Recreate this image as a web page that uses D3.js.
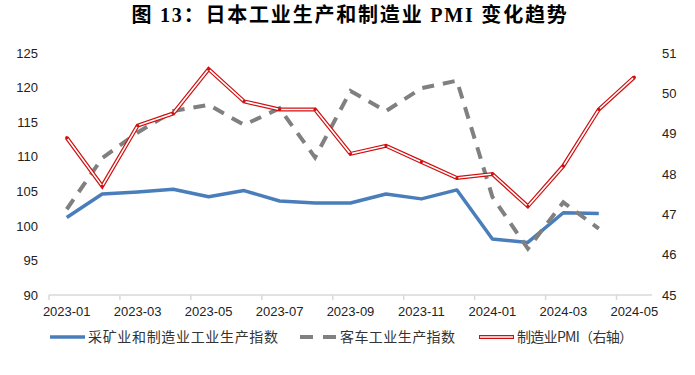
<!DOCTYPE html>
<html>
<head>
<meta charset="utf-8">
<script src="https://cdn.jsdelivr.net/npm/d3@7"></script>
<style>
  body { margin: 0; background: #fff; }
  svg { display: block; }
</style>
</head>
<body>
<script>
// 数据
var months = ["2023-01","2023-02","2023-03","2023-04","2023-05","2023-06","2023-07","2023-08","2023-09",
              "2023-10","2023-11","2023-12","2024-01","2024-02","2024-03","2024-04","2024-05"];
var ipIndex   = [101.2,104.6,104.9,105.3,104.2,105.1,103.6,103.3,103.3,104.6,103.9,105.2,98.1,97.6,101.9,101.8,null];
var autoIndex = [102.4,109.8,113.5,116.6,117.5,114.6,117.0,109.9,119.5,116.6,119.9,121.0,104.2,96.7,103.4,99.6,null];
var pmi       = [48.9,47.7,49.2,49.5,50.6,49.8,49.6,49.6,48.5,48.7,48.3,47.9,48.0,47.2,48.2,49.6,50.4];
var leftTicks  = [90,95,100,105,110,115,120,125];
var rightTicks = [45,46,47,48,49,50,51];
var title = "图 13：日本工业生产和制造业 PMI 变化趋势";
var legendNames = ["采矿业和制造业工业生产指数", "客车工业生产指数", "制造业PMI（右轴）"];

var width = 695, height = 375;
var plotL = 49, plotR = 652, plotT = 53, plotB = 295;
var blue = "#4a7ebb", grey = "#808080", red = "#d01010";

var svg = d3.select("body").append("svg")
    .attr("width", width).attr("height", height);

var x = d3.scaleBand().domain(months).range([plotL, plotR]);
var cx = function(m) { return x(m) + x.bandwidth() / 2; };
var yL = d3.scaleLinear().domain([90, 125]).range([plotB, plotT]);
var yR = d3.scaleLinear().domain([45, 51]).range([plotB, plotT]);

// 标题
svg.append("text")
    .attr("x", 350).attr("y", 22)
    .attr("text-anchor", "middle")
    .attr("font-family", "'Liberation Serif', 'Noto Sans CJK SC'")
    .attr("font-weight", "bold")
    .attr("font-size", 20)
    .attr("letter-spacing", 1.8)
    .text(title);

// 左轴
var axL = svg.append("g").attr("transform", "translate(" + plotL + ",0)")
    .call(d3.axisLeft(yL).tickValues(leftTicks).tickSize(0).tickPadding(11));
axL.select(".domain").remove();
// 右轴
var axR = svg.append("g").attr("transform", "translate(" + plotR + ",0)")
    .call(d3.axisRight(yR).tickValues(rightTicks).tickFormat(d3.format("d")).tickSize(0).tickPadding(10));
axR.select(".domain").remove();

// x轴
var axX = svg.append("g").attr("transform", "translate(0," + plotB + ")")
    .call(d3.axisBottom(x).tickSize(0).tickPadding(12)
        .tickFormat(function(d, i) { return i % 2 === 0 ? d : ""; }));
axX.select(".domain").attr("stroke", "#d9d9d9").attr("stroke-width", 1.5)
    .attr("d", "M" + plotL + ",0H" + plotR);
axX.selectAll(".tickmark").data(months.filter(function(d, i) { return i % 2 === 0; }))
  .enter().append("line")
    .attr("x1", function(d) { return x(d); }).attr("x2", function(d) { return x(d); })
    .attr("y1", 0).attr("y2", 5)
    .attr("stroke", "#d9d9d9").attr("stroke-width", 1.5);

svg.selectAll(".tick text")
    .attr("font-family", "'Liberation Sans', Arial, sans-serif")
    .attr("font-size", 13)
    .attr("fill", "#222");

// 折线
function series(vals) {
    return months.map(function(m, i) { return {m: m, v: vals[i]}; })
        .filter(function(d) { return d.v != null; });
}
var line = function(scale) {
    return d3.line().x(function(d) { return cx(d.m); }).y(function(d) { return scale(d.v); });
};

svg.append("path").datum(series(ipIndex))
    .attr("d", line(yL)).attr("fill", "none")
    .attr("stroke", blue).attr("stroke-width", 3.5).attr("stroke-linejoin", "round");

svg.append("path").datum(series(autoIndex))
    .attr("d", line(yL)).attr("fill", "none")
    .attr("stroke", grey).attr("stroke-width", 4).attr("stroke-dasharray", "12,9");

var pmiData = series(pmi);
svg.append("path").datum(pmiData)
    .attr("d", line(yR)).attr("fill", "none")
    .attr("stroke", red).attr("stroke-width", 4).attr("stroke-linejoin", "miter");
svg.append("path").datum(pmiData)
    .attr("d", line(yR)).attr("fill", "none")
    .attr("stroke", "#fff").attr("stroke-width", 1.6).attr("stroke-linejoin", "miter");
svg.selectAll(".pmidot").data(pmiData).enter().append("circle")
    .attr("cx", function(d) { return cx(d.m); })
    .attr("cy", function(d) { return yR(d.v); })
    .attr("r", 1.6).attr("fill", red);

// 图例
var ly = 337;
var lg = svg.append("g").attr("font-family", "'Noto Sans CJK SC', sans-serif")
    .attr("font-size", 14).attr("fill", "#333");
lg.append("line").attr("x1", 50).attr("x2", 85).attr("y1", ly).attr("y2", ly)
    .attr("stroke", blue).attr("stroke-width", 3.5);
lg.append("text").attr("x", 88).attr("y", ly + 5).text(legendNames[0])
    .attr("textLength", 190).attr("lengthAdjust", "spacing");

lg.append("line").attr("x1", 300).attr("x2", 336).attr("y1", ly).attr("y2", ly)
    .attr("stroke", grey).attr("stroke-width", 4).attr("stroke-dasharray", "13,10");
lg.append("text").attr("x", 340).attr("y", ly + 5).text(legendNames[1])
    .attr("textLength", 115).attr("lengthAdjust", "spacing");

lg.append("line").attr("x1", 479).attr("x2", 514).attr("y1", ly).attr("y2", ly)
    .attr("stroke", red).attr("stroke-width", 4);
lg.append("line").attr("x1", 480).attr("x2", 513).attr("y1", ly).attr("y2", ly)
    .attr("stroke", "#fff").attr("stroke-width", 1.6);
lg.append("text").attr("x", 517).attr("y", ly + 5).text(legendNames[2])
    .attr("textLength", 116).attr("lengthAdjust", "spacing");
</script>
</body>
</html>
